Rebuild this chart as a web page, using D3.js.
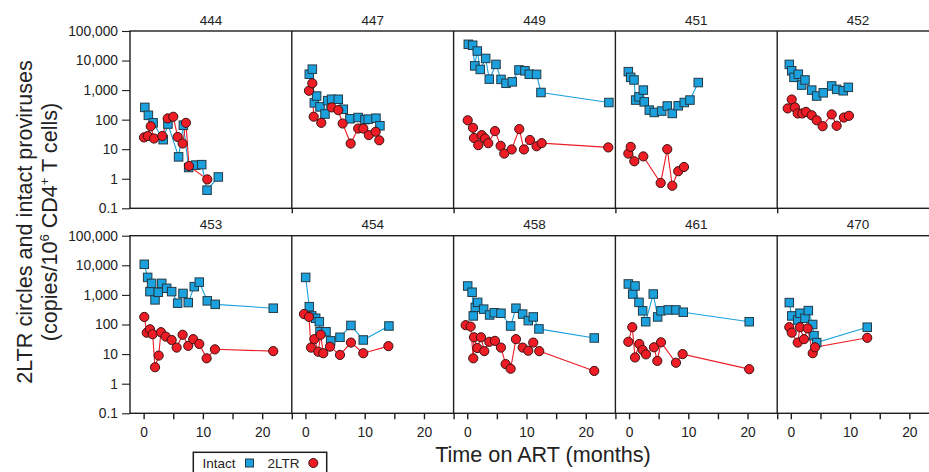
<!DOCTYPE html>
<html>
<head>
<meta charset="utf-8">
<script src="https://cdn.jsdelivr.net/npm/d3@7"></script>
<style>
  body { margin: 0; background: #fff; }
  svg { display: block; font-family: "Liberation Sans", Arial, sans-serif; }
</style>
</head>
<body>
<svg id="chart" width="929" height="472"></svg>
<script>
// [months on ART, copies per 10^6 CD4+ T cells]
const patients = ['444', '447', '449', '451', '452', '453', '454', '458', '461', '470'];

const intact444 = [[0.2,260],[0.8,140],[1.6,78],[3.3,21],[4.1,71],[5.9,5.5],[6.7,65],[7.6,2.4],[8.8,2.9],[9.8,3.0],[10.7,0.41],[12.6,1.15]];
const ltr444 = [[0.06,25],[0.7,28],[1.2,60],[1.75,23],[3.15,28],[4.06,110],[5.0,125],[5.74,26],[6.58,15.6],[7.14,78],[7.65,2.7],[10.74,0.95]];

const intact447 = [[0.65,3450],[1.16,5100],[1.5,370],[1.89,630],[2.46,270],[3.3,155],[3.75,440],[4.42,490],[5.54,490],[6.39,225],[7.51,107],[8.9,118],[10.04,100],[10.6,104],[11.9,112],[12.57,62]];
const ltr447 = [[0.6,950],[1.16,1700],[1.39,126],[2.67,78],[4.42,260],[5.54,210],[6.28,74],[7.63,15.5],[8.9,50],[9.76,50],[10.7,30],[11.85,39],[12.46,20]];

const intact449 = [[0.18,35500],[0.92,33000],[1.26,6600],[1.7,21000],[2.2,5000],[3.11,11800],[3.72,2350],[4.85,7400],[5.7,2300],[6.54,1700],[7.6,1900],[8.73,4800],[9.74,4500],[10.47,3450],[11.7,3400],[12.44,830],[23.9,380]];
const ltr449 = [[0.08,95],[0.97,53],[1.14,24],[1.86,13.7],[2.44,30],[2.99,23],[3.55,16],[4.68,41],[5.64,13],[6.25,7.1],[7.5,9.8],[8.78,48],[9.57,9.8],[10.58,20.5],[11.7,12.6],[12.56,16],[23.8,11.5]];

const intact451 = [[-0.12,4200],[0.28,2700],[0.84,2200],[1.12,460],[1.68,590],[2.41,1000],[2.57,400],[3.42,210],[4.26,175],[5.51,195],[6.45,290],[7.3,162],[8.3,295],[9.32,380],[10.28,460],[11.68,1800]];
const ltr451 = [[-0.12,7.1],[0.28,12],[0.89,3.9],[2.41,5.7],[5.34,0.72],[6.45,10],[7.3,0.58],[8.3,1.8],[9.27,2.5]];

const intact452 = [[-0.26,7400],[0.15,4500],[0.53,2700],[1.26,3450],[1.83,1480],[2.39,2200],[3.52,1000],[4.36,630],[5.47,810],[6.89,1380],[7.73,1060],[8.85,950],[9.7,1240]];
const ltr452 = [[-0.53,240],[0.15,480],[0.7,260],[1.16,162],[1.93,162],[2.56,183],[3.52,141],[4.36,95],[5.37,60],[6.89,150],[7.73,62],[8.96,118],[9.81,135]];

const intact453 = [[0.11,10800],[0.68,3900],[1.07,1290],[1.35,2450],[1.92,680],[2.47,1230],[3.05,2450],[3.89,1670],[4.73,1290],[5.74,525],[6.64,1120],[7.53,550],[8.54,1900],[9.39,2700],[10.74,630],[12.08,480],[21.87,355]];
const ltr453 = [[0.11,180],[0.52,53],[1.07,69],[1.52,47],[1.92,3.6],[2.54,8.9],[2.92,55],[3.72,39],[4.73,30],[5.57,16.6],[6.58,45],[7.53,19],[8.37,32],[9.39,22],[10.63,7.2],[12.03,14.5],[21.87,12.6]];

const intact454 = [[0.04,3900],[0.65,400],[1.06,195],[1.73,163],[2.34,124],[2.46,57],[3.47,57],[4.26,28],[5.83,37],[7.68,93],[9.76,30],[14.09,89]];
const ltr454 = [[-0.24,225],[0.6,180],[0.94,16.6],[1.5,32],[2.17,12],[2.57,45],[3.01,10.7],[4.14,17.8],[5.83,9.4],[7.68,24.5],[9.76,10.7],[14.0,18.6]];

const intact458 = [[0.08,2000],[0.82,1230],[1.02,195],[1.36,380],[1.76,560],[2.77,330],[3.78,210],[4.56,250],[5.69,240],[7.32,89],[8.22,355],[9.35,225],[10.3,135],[11.14,180],[12.1,71],[21.43,35]];
const ltr458 = [[-0.26,95],[0.58,85],[1.02,7.2],[1.14,37],[1.7,16],[2.32,37],[2.88,12.6],[3.72,26],[4.68,28],[5.69,16.6],[6.48,4.6],[7.32,3.2],[8.22,32],[9.35,16.6],[10.3,13],[11.14,24.5],[12.15,12.6],[21.43,2.7]];

const intact461 = [[-0.12,2340],[0.62,1070],[1.01,2000],[1.68,560],[2.3,290],[2.81,124],[4.09,1070],[4.83,180],[5.39,290],[6.62,310],[7.92,310],[9.15,260],[20.28,124]];
const ltr461 = [[-0.12,26],[0.55,81],[1.01,7.7],[1.73,22],[2.3,13.8],[2.86,9.8],[4.21,17],[4.77,5.9],[5.39,25],[7.92,5.1],[9.04,10],[20.28,3.1]];

const intact470 = [[-0.26,550],[0.15,195],[1.16,142],[1.55,240],[2.39,163],[2.95,295],[3.69,100],[3.91,42],[4.36,24.5],[12.89,81]];
const ltr470 = [[-0.26,81],[0.15,53],[1.16,24.5],[1.55,81],[2.22,32],[2.84,74],[3.69,10.7],[4.08,17],[12.89,35.5]];

const yTicks = [0.1, 1, 10, 100, 1000, 10000, 100000];
const xTicks = [0, 5, 10, 15, 20, 25];
const xLabels = [0, 10, 20];

const intactSeries = [intact444, intact447, intact449, intact451, intact452, intact453, intact454, intact458, intact461, intact470];
const ltrSeries = [ltr444, ltr447, ltr449, ltr451, ltr452, ltr453, ltr454, ltr458, ltr461, ltr470];

const blue = '#1ba1dd', red = '#ee1c25', ink = '#1e1e1e';

const svg = d3.select('#chart');
const left = 130, panelW = 161.8, nCols = 5;
const rows = [{top: 31, bottom: 208.3}, {top: 235.7, bottom: 413.3}];

// minor log ticks 2..9 of each decade
const minorTicks = [];
for (let e = -1; e < 5; e++) {
    for (let m = 2; m < 10; m++) minorTicks.push(m * Math.pow(10, e));
}

rows.forEach((r, ri) => {
    const y = d3.scaleLog().domain([0.1, 1e5]).range([r.bottom, r.top]);
    r.y = y;

    const axY = svg.append('g').attr('transform', `translate(${left},0)`);
    axY.call(d3.axisLeft(y).tickValues(minorTicks).tickSize(5).tickFormat(''));
    axY.call(d3.axisLeft(y).tickValues(yTicks).tickSize(8).tickPadding(4).tickFormat(d3.format(',')));
    axY.selectAll('path').remove();
    axY.selectAll('line').attr('stroke', ink).attr('stroke-width', 1.1);
    axY.selectAll('text').attr('font-size', '13.8px').attr('fill', '#222');

    // frame round the row
    svg.append('rect')
        .attr('x', left).attr('y', r.top)
        .attr('width', panelW * nCols).attr('height', r.bottom - r.top)
        .attr('fill', 'none').attr('stroke', ink).attr('stroke-width', 1.4);
    for (let c = 1; c < nCols; c++) {
        svg.append('line')
            .attr('x1', left + c * panelW).attr('x2', left + c * panelW)
            .attr('y1', r.top).attr('y2', r.bottom)
            .attr('stroke', ink).attr('stroke-width', 1.4);
    }
});

patients.forEach((id, i) => {
    const row = rows[Math.floor(i / nCols)];
    const col = i % nCols;
    const x0 = left + col * panelW;
    const x = d3.scaleLinear().domain([-2.3, 25]).range([x0, x0 + panelW]);
    const y = row.y;
    const g = svg.append('g');

    g.append('text')
        .attr('x', x0 + panelW / 2).attr('y', row.top - 6.5)
        .attr('text-anchor', 'middle').attr('font-size', '13.5px').attr('fill', '#222')
        .text(id);

    const isBottom = i >= nCols;
    const axX = g.append('g').attr('transform', `translate(0,${row.bottom})`)
        .call(d3.axisBottom(x)
            .tickValues(isBottom ? xTicks : [25])
            .tickSize(isBottom ? 6 : 5)
            .tickPadding(8)
            .tickFormat(d => (isBottom && xLabels.includes(d)) ? d : ''));
    axX.select('.domain').remove();
    axX.selectAll('line').attr('stroke', ink).attr('stroke-width', 1.4);
    axX.selectAll('text').attr('font-size', '13.8px').attr('fill', '#222');

    const line = d3.line().x(d => x(d[0])).y(d => y(d[1]));

    g.append('path').datum(intactSeries[i])
        .attr('d', line).attr('fill', 'none')
        .attr('stroke', blue).attr('stroke-width', 1.1);
    g.append('path').datum(ltrSeries[i])
        .attr('d', line).attr('fill', 'none')
        .attr('stroke', red).attr('stroke-width', 1.1);

    const sq = 8.5;
    g.selectAll('.intact').data(intactSeries[i]).enter()
        .append('rect').attr('class', 'intact')
        .attr('x', d => x(d[0]) - sq / 2).attr('y', d => y(d[1]) - sq / 2)
        .attr('width', sq).attr('height', sq)
        .attr('fill', blue).attr('stroke', '#233a46').attr('stroke-width', 1);

    g.selectAll('.ltr').data(ltrSeries[i]).enter()
        .append('circle').attr('class', 'ltr')
        .attr('cx', d => x(d[0])).attr('cy', d => y(d[1]))
        .attr('r', 4.6)
        .attr('fill', red).attr('stroke', '#3a1212').attr('stroke-width', 1);
});

// axis titles
const yTitle = svg.append('text')
    .attr('transform', 'translate(32,222) rotate(-90)')
    .attr('text-anchor', 'middle').attr('font-size', '21.6px').attr('fill', '#222');
yTitle.append('tspan').attr('x', 0).attr('y', 0).text('2LTR circles and intact proviruses');
const yTitle2 = svg.append('text')
    .attr('transform', 'translate(57,222) rotate(-90)')
    .attr('text-anchor', 'middle').attr('font-size', '21.6px').attr('fill', '#222');
yTitle2.append('tspan').text('(copies/10');
yTitle2.append('tspan').attr('font-size', '13px').attr('dy', -8).text('6');
yTitle2.append('tspan').attr('dy', 8).text(' CD4');
yTitle2.append('tspan').attr('font-size', '13px').attr('dy', -8).text('+');
yTitle2.append('tspan').attr('dy', 8).text(' T cells)');

svg.append('text')
    .attr('x', 543).attr('y', 462)
    .attr('text-anchor', 'middle').attr('font-size', '21.6px').attr('fill', '#222')
    .text('Time on ART (months)');

// legend
const leg = svg.append('g');
leg.append('rect')
    .attr('x', 193.3).attr('y', 452.3).attr('width', 133.4).attr('height', 30)
    .attr('fill', '#fff').attr('stroke', ink).attr('stroke-width', 1.5);
leg.append('text').attr('x', 202.5).attr('y', 467.5)
    .attr('font-size', '13.5px').attr('fill', '#222').text('Intact');
leg.append('rect').attr('x', 245.5).attr('y', 459).attr('width', 8).attr('height', 8)
    .attr('fill', blue).attr('stroke', '#233a46').attr('stroke-width', 1);
leg.append('text').attr('x', 267.5).attr('y', 467.5)
    .attr('font-size', '13.5px').attr('fill', '#222').text('2LTR');
leg.append('circle').attr('cx', 313.3).attr('cy', 463).attr('r', 4.5)
    .attr('fill', red).attr('stroke', '#3a1212').attr('stroke-width', 1);
</script>
</body>
</html>
